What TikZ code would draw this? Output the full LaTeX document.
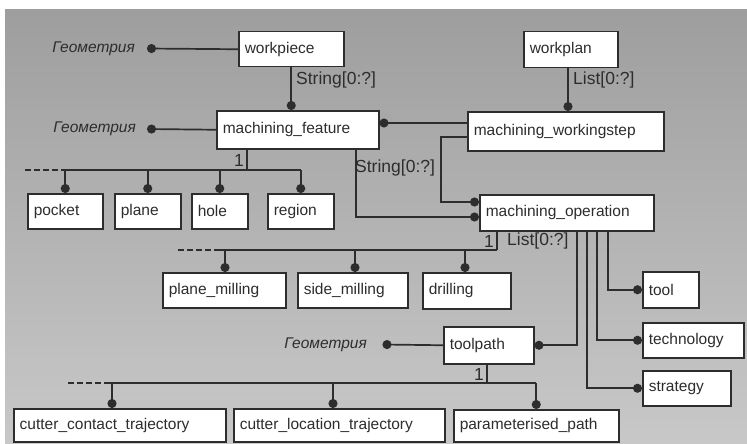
\documentclass[tikz,border=0pt]{standalone}
\usepackage{fontspec}
\setmainfont{Liberation Sans}
\usetikzlibrary{arrows.meta}
\definecolor{linec}{RGB}{45,45,45}
\definecolor{bgtop}{RGB}{158,158,158}
\definecolor{bgbot}{RGB}{200,200,200}
\begin{document}
\begin{tikzpicture}[x=1pt,y=-1pt,
  box/.style={draw=linec, fill=white, line width=1.5pt, anchor=north west,
    inner xsep=6pt, inner ysep=0pt, align=left, text=linec,
    font=\fontsize{15.5}{17}\selectfont},
  conn/.style={draw=linec, line width=1.7pt},
  dot/.style={-{Circle[length=9pt,width=9pt]}},
  dashpart/.style={draw=linec, line width=2.2pt, dash pattern=on 6pt off 3pt},
  lab/.style={font=\fontsize{17.5}{19}\selectfont, text=linec, inner sep=0pt},
  geo/.style={font=\fontsize{15.5}{18}\selectfont\itshape, text=linec, inner sep=0pt},
]
\useasboundingbox (0,0) rectangle (747,444);
\shade[top color=bgtop, bottom color=bgbot] (5,10) rectangle (747,444);

% boxes
\node[box, text width=93pt,  minimum height=35pt] (workpiece) at (238,31) {workpiece};
\node[box, text width=82pt,  minimum height=36pt] (workplan) at (523,31) {workplan};
\node[box, text width=150pt, minimum height=38pt] (mf) at (216,110) {machining\_feature};
\node[box, text width=184pt, minimum height=39pt] (mws) at (467,111) {machining\_workingstep};
\node[box, text width=162pt, minimum height=36pt] (mo) at (479,194) {machining\_operation};
\node[box, text width=63pt,  minimum height=35pt] (pocket) at (27,193) {pocket};
\node[box, text width=54pt,  minimum height=35pt] (plane) at (114,193) {plane};
\node[box, text width=44pt,  minimum height=35pt] (hole) at (191,193) {hole};
\node[box, text width=54pt,  minimum height=35pt] (region) at (267,193) {region};
\node[box, text width=111pt, minimum height=35pt] (pmill) at (162,272) {plane\_milling};
\node[box, text width=98pt,  minimum height=35pt] (smill) at (297,272) {side\_milling};
\node[box, text width=76pt,  minimum height=36pt] (drill) at (422,272) {drilling};
\node[box, text width=78pt,  minimum height=37pt] (toolpath) at (443,326) {toolpath};
\node[box, text width=44pt,  minimum height=36pt] (tool) at (642,271) {tool};
\node[box, text width=89pt,  minimum height=35pt] (tech) at (642,322) {technology};
\node[box, text width=76pt,  minimum height=35pt] (strat) at (642,370) {strategy};
\node[box, text width=200pt, minimum height=33pt] (cct) at (13,408) {cutter\_contact\_trajectory};
\node[box, text width=199pt, minimum height=33pt] (clt) at (233,408) {cutter\_location\_trajectory};
\node[box, text width=153pt, minimum height=32pt] (pp) at (453,409) {parameterised\_path};

% geometry labels
\node[geo, anchor=east] (g1) at (135,48.5) {Геометрия};
\node[geo, anchor=east] (g2) at (136,129) {Геометрия};
\node[geo, anchor=east] (g3) at (367,344.5) {Геометрия};
\draw[conn,dot] (workpiece.west) -- ([xshift=12pt]g1.east);
\draw[conn,dot] (mf.west) -- ([xshift=11pt]g2.east);
\draw[conn,dot] (toolpath.west) -- ([xshift=15.5pt]g3.east);

% multiplicity labels
\node[lab, anchor=west] (l1) at (296,80) {String[0:?]};
\node[lab, anchor=west] (l2) at (573,80) {List[0:?]};
\node[lab, anchor=east] (l3) at (244,160) {1};
\node[lab, anchor=west] (l4) at (355,168) {String[0:?]};
\node[lab, anchor=east] (l5) at (494,241) {1};
\node[lab, anchor=west] (l6) at (507,241) {List[0:?]};
\node[lab, anchor=east] (l7) at (484,374) {1};

% top connectors
\draw[conn,dot] (workpiece.south) -- (workpiece.south |- mf.north);
\draw[conn,dot] (workplan.south -| 568,0) -- (mws.north -| 568,0);
\draw[conn,dot] (mws.west |- 0,123) -- (mf.east |- 0,123);
\draw[conn,dot] (mf.south -| 356,0) |- (mo.west |- 0,217);
\draw[conn,dot] (mws.west |- 0,137) -- (441,137) -- (441,202) -- (mo.west |- 0,202);

% feature tree
\coordinate (busA) at (25,170);
\draw[conn] (mf.south -| 247,0) -- (247,170);
\draw[dashpart] (busA) -- (62,170);
\draw[conn] (62,170) -- (region.north |- busA);
\foreach \c in {pocket,plane,hole,region}
  \draw[conn,dot] (\c.north |- busA) -- (\c.north);

% operation tree
\coordinate (busB) at (178,250);
\draw[conn] (mo.south -| 497,0) -- (497,250);
\draw[dashpart] (busB) -- (220,250);
\draw[conn] (220,250) -- (497,250);
\draw[conn,dot] (225,250) -- (pmill.north -| 225,0);
\draw[conn,dot] (355,250) -- (smill.north -| 355,0);
\draw[conn,dot] (465,250) -- (drill.north -| 465,0);

% operation attributes
\draw[conn,dot] (mo.south -| 577,0) |- (toolpath.east);
\draw[conn,dot] (mo.south -| 587,0) |- (strat.west);
\draw[conn,dot] (mo.south -| 597,0) |- (tech.west);
\draw[conn,dot] (mo.south -| 608,0) |- (tool.west);

% toolpath tree
\coordinate (busC) at (68,383);
\draw[conn] (toolpath.south -| 487,0) -- (487,383);
\draw[dashpart] (busC) -- (110,383);
\draw[conn] (110,383) -- (pp.north |- busC);
\draw[conn,dot] (112,383) -- (cct.north -| 112,0);
\draw[conn,dot] (333,383) -- (clt.north -| 333,0);
\draw[conn,dot] (pp.north |- busC) -- (pp.north);
\end{tikzpicture}
\end{document}
